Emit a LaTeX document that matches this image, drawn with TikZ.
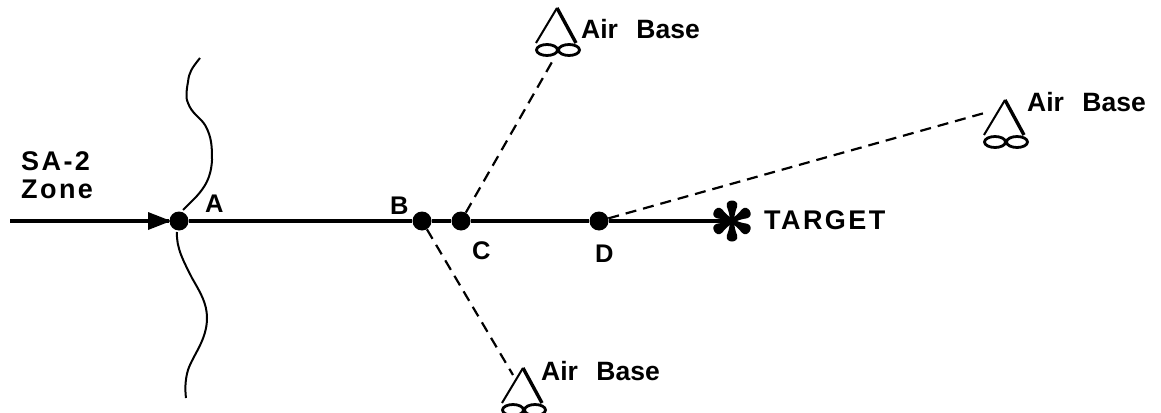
\documentclass[tikz,border=0pt]{standalone}
\usepackage{fontspec}
\setmainfont{Liberation Sans}
\newfontfamily\spacedfont[LetterSpace=9]{Liberation Sans}
\usetikzlibrary{arrows.meta,positioning}
\tikzset{
  wpt/.style={circle, fill=black, inner sep=0pt, minimum size=19pt},
  lbl/.style={font=\fontsize{26.5}{30}\selectfont\bfseries, inner sep=0pt, anchor=base west},
  ptlbl/.style={font=\fontsize{25.5}{30}\selectfont\bfseries, inner sep=0pt, anchor=base west},
  spaced/.style={font=\fontsize{27}{30}\selectfont\spacedfont\bfseries, inner sep=0pt, anchor=base west, align=left},
  track/.style={line width=3.2pt},
  leg/.style={line width=2.2pt, dash pattern=on 11pt off 7pt},
  airbase/.pic={
    \draw[line width=2pt] (-21,35) -- (0,0);
    \draw[line width=3.4pt] (0,0) -- (19,35);
    \draw[line width=2.8pt] (-10,42) ellipse (10.5pt and 5.5pt);
    \draw[line width=2.8pt] (12,42) ellipse (10.5pt and 5.5pt);
  },
  petal/.pic={
    \fill (-2.2,0) .. controls (-2.2,-5) and (-3,-9) .. (-5.2,-14.5) .. controls (-7.2,-22.5) and (7.2,-22.5) .. (5.2,-14.5) .. controls (3,-9) and (2.2,-5) .. (2.2,0) -- cycle;
  }
}
\begin{document}
\begin{tikzpicture}[x=1pt, y=-1pt]
\useasboundingbox (0,0) rectangle (1161,412);

% River
\draw[line width=2pt] (200,58) .. controls (192,68) and (189,72) .. (188,82) .. controls (186,92) and (186,100) .. (188,103) .. controls (192,114) and (200,117) .. (205,125) .. controls (212,137) and (212,148) .. (212,160) .. controls (211,178) and (205,187) .. (196,197) -- (183,210);
\draw[line width=2pt] (177,232) .. controls (176,248) and (184,262) .. (192,278) .. controls (200,292) and (207,303) .. (207,318) .. controls (207,340) and (193,355) .. (188,370) .. controls (185,380) and (185,390) .. (186,398);

% Waypoints
\node[wpt] (a) at (179,221) {};
\node[wpt] (b) at (422,221) {};
\node[wpt] (c) at (461,221) {};
\node[wpt] (d) at (599,221) {};
\coordinate (start) at (10,221);
\coordinate (tgt) at (732,221);
\coordinate (north) at (552,62);
\coordinate (east) at (988,112);
\coordinate (south) at (513,375);

% Track
\draw[track] (start) -- (a);
\draw[track] (a) -- (b) -- (c) -- (d) -- (tgt);
\fill (148,212) -- (171,221) -- (148,230) -- cycle;

% Legs to the bases
\draw[leg] (c) -- (north);
\draw[leg] (d) -- (east);
\draw[leg] (b) -- (south);

% Bases
\pic at (557,8) {airbase};
\pic at (1005,100) {airbase};
\pic at (523,368) {airbase};

% Target
\foreach \ang in {0,60,...,300}
  \pic[rotate=\ang] at (tgt) {petal};

% Labels
\node[lbl] (basen) at (581,38) {Air\hspace{0.42em} Base};
\node[lbl] (basee) at (1027,111) {Air\hspace{0.42em} Base};
\node[lbl] (bases) at (541,380) {Air\hspace{0.42em} Base};
\node[spaced] (tgtlbl) at (764,229) {TARGET};
\node[spaced] (sa) at (21,170) {SA-2};
\node[spaced] (zone) at (21,198) {Zone};
\node[ptlbl] (la) at (205,212) {A};
\node[ptlbl] (lb) at (390,214) {B};
\node[ptlbl] (lc) at (472,259) {C};
\node[ptlbl] (ld) at (595,262) {D};
\end{tikzpicture}
\end{document}
